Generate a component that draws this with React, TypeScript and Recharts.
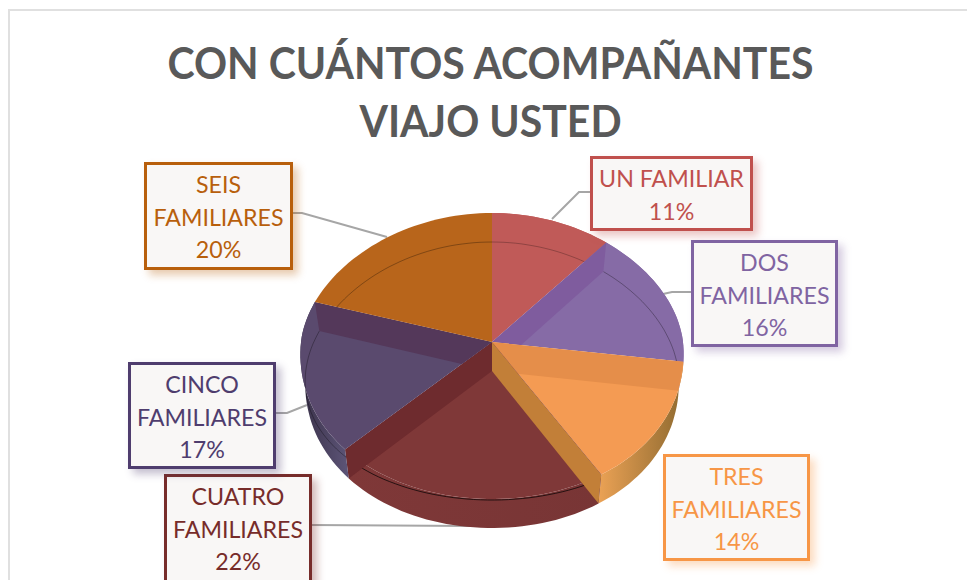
import { PieChart, Pie } from "recharts";

const title = ["CON CUÁNTOS ACOMPAÑANTES", "VIAJO USTED"];
const names = ["UN FAMILIAR", "DOS FAMILIARES", "TRES FAMILIARES", "CUATRO FAMILIARES", "CINCO FAMILIARES", "SEIS FAMILIARES"];
const values = [11, 16, 14, 22, 17, 20];

const faceColors = ["#C05A58", "#866BA6", "#F49B53", "#7F3838", "#5A4A6E", "#B8651B"];
const textColors = ["#C0504D", "#8064A2", "#F79646", "#772C2A", "#4F3D6E", "#B85F0C"];
const rimFrom = ["#C05A58", "#866BA6", "#EBA255", "#7F3838", "#3A3149", null];
const rimTo = ["#C05A58", "#866BA6", "#8F6A30", "#783535", "#5D5578", null];
const startWall = [null, "#7F5C9E", "#E58E4A", "#C27F38", null, null];
const endWall = [null, null, null, "#6E2B2E", "#54385A", null];
const arcOpacity = [0.25, 0.3, 0, 0.7, 0.3, 0.3];

// callout boxes: left, top, width, height
const boxes = [
  [590, 156, 163, 75],
  [691, 240, 147, 107],
  [663, 454, 147, 107],
  [164, 474, 148, 115],
  [128, 362, 148, 107],
  [144, 162, 149, 108],
];
const leaders = [
  "590,192 579,192 552,219",
  "691,292 672,292 663,294",
  "",
  "311,525 470,526",
  "275,413 287,413 307,405",
  "292,213 302,213 387,237",
];

const pieData = names.map((name, i) => ({ name, value: values[i] }));

const DEPTH = 29;
const BACK = 129 / 191;
const FRONT = 157 / 191;
const BOTTOM_RX = 0.975;
const PERSPECTIVE = 0.08;

// tilted disc: the back half is flatter and narrower than the front half
const project = (cx: number, cy: number, r: number, angle: number, rx = 1, flat = false) => {
  const t = ((90 - angle) * Math.PI) / 180;
  const c = Math.cos(t);
  const k = flat ? BACK : c > 0 ? BACK : FRONT;
  return [cx + r * rx * Math.sin(t) * (1 - PERSPECTIVE * c), cy - r * k * c];
};

const arcPoints = (cx: number, cy: number, r: number, a0: number, a1: number, rx = 1, flat = false) => {
  const n = Math.max(2, Math.ceil(Math.abs(a1 - a0) / 2));
  const pts = [];
  for (let i = 0; i <= n; i++) pts.push(project(cx, cy, r, a0 + ((a1 - a0) * i) / n, rx, flat));
  return pts;
};

const toPath = (pts: number[][]) => "M" + pts.map((p) => p[0].toFixed(1) + "," + p[1].toFixed(1)).join("L") + "Z";
const toLine = (pts: number[][]) => "M" + pts.map((p) => p[0].toFixed(1) + "," + p[1].toFixed(1)).join("L");

function Slice(props: any) {
  const { cx, cy, outerRadius: r, startAngle, endAngle } = props;
  const i = names.indexOf(props.name ?? props.payload?.name);
  const top = arcPoints(cx, cy, r, startAngle, endAngle);
  const low = arcPoints(cx, cy + DEPTH, r, startAngle, endAngle, BOTTOM_RX);
  const face = toPath([[cx, cy], ...top]);
  const rim = toPath([...top, ...low.slice().reverse()]);
  const wall = (angle: number) =>
    toPath([
      [cx, cy],
      project(cx, cy, r, angle),
      project(cx, cy + DEPTH, r, angle, BOTTOM_RX),
      [cx, cy + DEPTH],
    ]);
  return (
    <g>
      <defs>
        <clipPath id={"slice-" + i}>
          <path d={face} />
          {rimFrom[i] && <path d={rim} />}
        </clipPath>
        <linearGradient id={"rim-" + i} x1="0" y1="0" x2="1" y2="0">
          <stop offset="0" stopColor={rimFrom[i] ?? "none"} />
          <stop offset="1" stopColor={rimTo[i] ?? "none"} />
        </linearGradient>
      </defs>
      {rimFrom[i] && <path d={rim} fill={`url(#rim-${i})`} />}
      <path d={face} fill={faceColors[i]} />
      <path
        d={toLine(arcPoints(cx, cy + DEPTH, r, startAngle, endAngle, BOTTOM_RX, true))}
        fill="none"
        stroke="#000"
        strokeOpacity={arcOpacity[i]}
        clipPath={`url(#slice-${i})`}
      />
      {startWall[i] && <path d={wall(startAngle)} fill={startWall[i]} clipPath={`url(#slice-${i})`} />}
      {endWall[i] && <path d={wall(endAngle)} fill={endWall[i]} clipPath={`url(#slice-${i})`} />}
    </g>
  );
}

export default function App() {
  return (
    <div
      style={{
        position: "absolute",
        left: 0,
        top: 0,
        width: 967,
        height: 580,
        overflow: "hidden",
        background: "#fff",
        fontFamily: "Lato, sans-serif",
      }}
    >
      <div style={{ position: "absolute", left: 8, top: 9, right: -4, bottom: -4, border: "2px solid #E0E0E0" }} />
      {title.map((line, i) => (
        <div
          key={line}
          style={{
            position: "absolute",
            left: 0,
            width: 981,
            top: 34 + i * 58,
            textAlign: "center",
            fontSize: 44,
            lineHeight: "56px",
            fontWeight: 700,
            color: "#595959",
            transform: "scaleX(0.932)",
          }}
        >
          {line}
        </div>
      ))}
      <svg width={967} height={580} style={{ position: "absolute", left: 0, top: 0 }}>
        {leaders.map((pts, i) =>
          pts ? <polyline key={i} points={pts} fill="none" stroke="#A6A6A6" strokeWidth={2} /> : null
        )}
      </svg>
      <div style={{ position: "absolute", left: 0, top: 0 }}>
        <PieChart width={967} height={580} margin={{ top: 0, right: 0, bottom: 0, left: 0 }}>
          <Pie
            data={pieData}
            dataKey="value"
            nameKey="name"
            cx={492}
            cy={342}
            outerRadius={191}
            startAngle={90}
            endAngle={-270}
            stroke="none"
            isAnimationActive={false}
            shape={Slice}
          />
        </PieChart>
      </div>
      {names.map((name, i) => {
        const [left, top, width, height] = boxes[i];
        const words = name === "UN FAMILIAR" ? [name] : name.split(" ");
        return (
          <div
            key={name}
            style={{
              position: "absolute",
              left,
              top,
              width,
              height,
              boxSizing: "border-box",
              border: `3px solid ${textColors[i]}`,
              background: "#F9F7F6",
              boxShadow: `5px 5px 8px ${textColors[i]}55`,
              color: textColors[i],
              textAlign: "center",
              fontSize: 23.2,
              lineHeight: "32.5px",
              paddingTop: 3,
            }}
          >
            {words.map((w) => (
              <div key={w}>{w}</div>
            ))}
            <div>{values[i]}%</div>
          </div>
        );
      })}
    </div>
  );
}
